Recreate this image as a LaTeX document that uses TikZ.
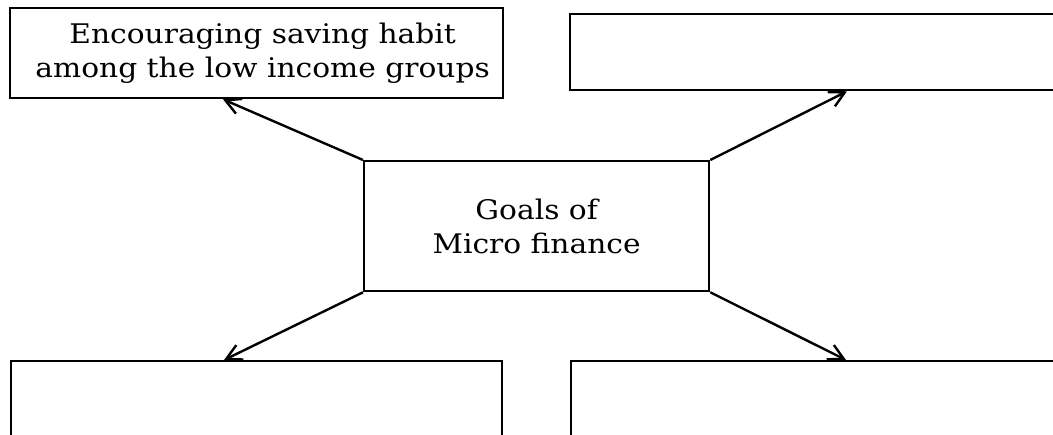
\documentclass[tikz,border=0pt]{standalone}
\usepackage{fontspec}
\setmainfont[FakeStretch=1.1]{DejaVu Serif}
\usetikzlibrary{positioning, arrows.meta}

\tikzset{
  goalbox/.style={draw, line width=1.15pt, anchor=north west, align=center,
    inner sep=0pt, font=\fontsize{13.5}{17}\selectfont},
  goalarrow/.style={line width=1.2pt, -{Straight Barb[length=7.5pt,width=8pt]}}
}

\begin{document}
\begin{tikzpicture}[x=0.5pt,y=-0.5pt]
\useasboundingbox (0,0) rectangle (1053,434);
\clip (0,0) rectangle (1053,434);
% outer boxes
\node[goalbox, minimum width=246.5pt, minimum height=45pt] (habit) at (9,7)
  {\hspace*{6pt}Encouraging saving habit\\\hspace*{6pt}among the low income groups};
\node[goalbox, minimum width=246.5pt, minimum height=38pt] (topright) at (569,13) {};
\node[goalbox, minimum width=245.5pt, minimum height=45pt] (botleft) at (10,360) {};
\node[goalbox, minimum width=246.5pt, minimum height=45pt] (botright) at (570,360) {};
% centre box
\node[goalbox, minimum width=172.5pt, minimum height=65pt] (goals) at (363,160)
  {Goals of\\Micro finance};
% arrows
\draw[goalarrow] (goals.north west) -- ([xshift=107pt]habit.south west);
\draw[goalarrow] (goals.north east) -- ([xshift=139pt]topright.south west);
\draw[goalarrow] (goals.south west) -- ([xshift=107pt]botleft.north west);
\draw[goalarrow] (goals.south east) -- ([xshift=138pt]botright.north west);
\end{tikzpicture}
\end{document}
